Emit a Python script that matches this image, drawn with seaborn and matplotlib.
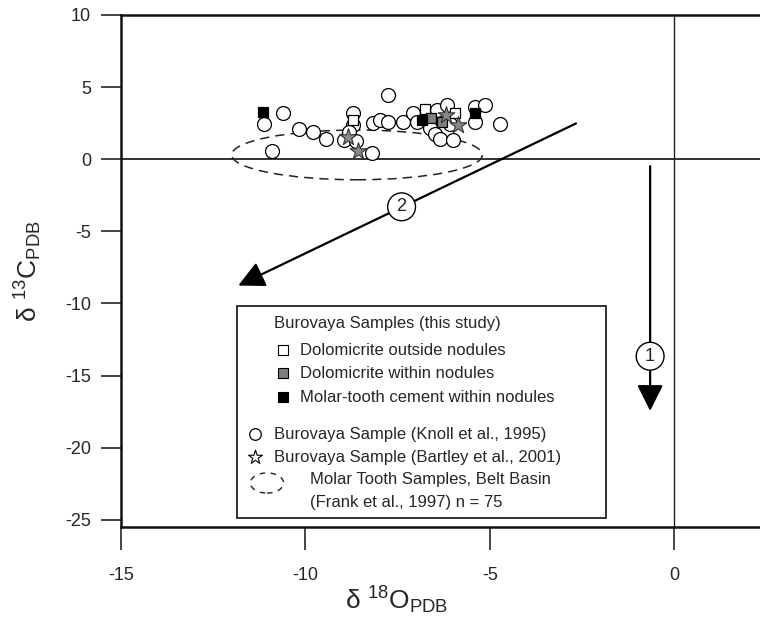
import matplotlib
matplotlib.use("Agg")
import pandas as pd
import matplotlib.pyplot as plt
import seaborn as sns
from matplotlib.patches import Ellipse, Rectangle, FancyArrowPatch

sns.set_theme(style="white")
plt.rcParams['font.family'] = ['Liberation Sans', 'DejaVu Sans']
plt.rcParams['mathtext.fontset'] = 'custom'
plt.rcParams['mathtext.rm'] = 'Liberation Sans'
plt.rcParams['mathtext.default'] = 'regular'
plt.rcParams['axes.unicode_minus'] = False

# Dados (d18O, d13C)
knoll_d18o = [-10.60, -11.11, -10.17, -9.78, -9.44, -10.91, -8.70, -8.70, -8.95, -8.81,
              -8.63, -8.20, -8.17, -7.75, -7.98, -7.75, -7.34, -7.07, -6.44, -6.17,
              -6.08, -6.62, -6.48, -6.35, -6.00, -6.98, -5.40, -5.13, -5.40, -4.72]
knoll_d13c = [3.17, 2.47, 2.08, 1.89, 1.37, 0.55, 3.17, 2.36, 1.32, 1.89,
              1.27, 0.44, 2.52, 4.44, 2.70, 2.58, 2.58, 3.17, 3.40, 3.74,
              2.47, 2.13, 1.78, 1.43, 1.32, 2.58, 3.62, 3.74, 2.58, 2.47]

fora_d18o = [-8.70, -6.75, -5.94]
fora_d13c = [2.75, 3.51, 3.17]
dentro_d18o = [-6.58, -6.30]
dentro_d13c = [2.89, 2.58]
cimento_d18o = [-11.14, -6.85, -5.40]
cimento_d13c = [3.24, 2.70, 3.17]
bartley_d18o = [-8.83, -8.56, -6.19, -5.85]
bartley_d13c = [1.55, 0.55, 3.10, 2.38]

# Campo Belt Basin (Frank et al., 1997): centro, largura, altura
elipse_centro = (-8.6, 0.3)
elipse_larg, elipse_alt = 6.8, 3.45

# Setas de tendência: (início, fim, posição do rótulo, rótulo)
setas = [((-0.65, -0.48), (-0.65, -17.45), (-0.65, -13.66), '1'),
         ((-2.66, 2.48), (-11.82, -8.76), (-7.39, -3.30), '2')]

df_knoll = pd.DataFrame({'d18O': knoll_d18o, 'd13C': knoll_d13c})
df_fora = pd.DataFrame({'d18O': fora_d18o, 'd13C': fora_d13c})
df_dentro = pd.DataFrame({'d18O': dentro_d18o, 'd13C': dentro_d13c})
df_cimento = pd.DataFrame({'d18O': cimento_d18o, 'd13C': cimento_d13c})
df_bartley = pd.DataFrame({'d18O': bartley_d18o, 'd13C': bartley_d13c})

fig = plt.figure(figsize=(7.6, 6.27), dpi=100)
ax = fig.add_axes([0.1592, 0.1595, 0.8408, 0.8166])

ax.axhline(0, color='#222222', lw=1.3, zorder=1)
ax.axvline(0, color='#222222', lw=1.0, zorder=1)

ax.add_patch(Ellipse(elipse_centro, elipse_larg, elipse_alt, fill=False,
                     ls=(0, (6, 4)), lw=1.1, edgecolor='#222222', zorder=2))

sns.scatterplot(data=df_knoll, x='d18O', y='d13C', ax=ax, marker='o', s=100,
                facecolor='white', edgecolor='black', linewidth=0.9, zorder=3)
sns.scatterplot(data=df_fora, x='d18O', y='d13C', ax=ax, marker='s', s=60,
                facecolor='white', edgecolor='black', linewidth=0.9, zorder=4)
sns.scatterplot(data=df_dentro, x='d18O', y='d13C', ax=ax, marker='s', s=60,
                facecolor='#808080', edgecolor='black', linewidth=0.9, zorder=4)
sns.scatterplot(data=df_cimento, x='d18O', y='d13C', ax=ax, marker='s', s=60,
                facecolor='black', edgecolor='black', linewidth=0.9, zorder=4)
sns.scatterplot(data=df_bartley, x='d18O', y='d13C', ax=ax, marker='*', s=160,
                facecolor='#8a8a8a', edgecolor='#333333', linewidth=0.8, zorder=5)

for inicio, fim, pos, rotulo in setas:
    ax.add_patch(FancyArrowPatch(inicio, fim, arrowstyle='-|>,head_length=0.8,head_width=0.4',
                                 mutation_scale=20, lw=1.6, color='black', zorder=6,
                                 shrinkA=0, shrinkB=0))
    ax.text(pos[0], pos[1], rotulo, fontsize=13, ha='center', va='center', zorder=7,
            bbox=dict(boxstyle='circle,pad=0.3', facecolor='white', edgecolor='black', lw=1.0))

# Caixa de legenda desenhada à mão, como no original
ax.add_patch(Rectangle((-11.85, -24.88), 10.0, 14.69, facecolor='white',
                       edgecolor='#222222', lw=1.3, zorder=8))
ax.text(-10.86, -11.37, 'Burovaya Samples (this study)', fontsize=12, va='center', zorder=9)
itens_quadrado = [('white', 'Dolomicrite outside nodules', -13.24),
                  ('#808080', 'Dolomicrite within nodules', -14.83),
                  ('black', 'Molar-tooth cement within nodules', -16.49)]
for cor, texto, y in itens_quadrado:
    ax.scatter([-10.61], [y], marker='s', s=45, facecolor=cor, edgecolor='black',
               linewidth=0.8, zorder=9)
    ax.text(-10.14, y, texto, fontsize=12, va='center', zorder=9)
ax.scatter([-11.37], [-19.06], marker='o', s=70, facecolor='white', edgecolor='black',
           linewidth=0.9, zorder=9)
ax.text(-10.86, -19.06, 'Burovaya Sample (Knoll et al., 1995)', fontsize=12, va='center', zorder=9)
ax.scatter([-11.37], [-20.65], marker='*', s=110, facecolor='white', edgecolor='black',
           linewidth=0.8, zorder=9)
ax.text(-10.86, -20.65, 'Burovaya Sample (Bartley et al., 2001)', fontsize=12, va='center', zorder=9)
ax.add_patch(Ellipse((-11.04, -22.45), 0.9, 1.4, fill=False, ls=(0, (4, 4)), lw=1.0,
                     edgecolor='#222222', zorder=9))
ax.text(-9.87, -22.18, 'Molar Tooth Samples, Belt Basin', fontsize=12, va='center', zorder=9)
ax.text(-9.87, -23.77, '(Frank et al., 1997) n = 75', fontsize=12, va='center', zorder=9)

ax.set_xlim(-15, 2.33)
ax.set_ylim(-25.5, 10)
ax.set_xticks([-15, -10, -5, 0])
ax.set_yticks([-25, -20, -15, -10, -5, 0, 5, 10])

for lado in ['left', 'top', 'bottom']:
    ax.spines[lado].set_linewidth(1.8)
    ax.spines[lado].set_color('#111111')
ax.spines['right'].set_visible(False)

ax.tick_params(axis='y', direction='out', length=14.5, width=1.2, labelsize=13, pad=7, left=True)
ax.tick_params(axis='x', direction='out', length=16.5, width=1.2, labelsize=13, pad=12, bottom=True)

ax.set_xlabel('δ $^{18}$O$_{PDB}$', fontsize=19, va='center')
ax.xaxis.set_label_coords(0.432, -0.143)
ax.set_ylabel('δ $^{13}$C$_{PDB}$', fontsize=19, va='center')
ax.yaxis.set_label_coords(-0.145, 0.50)

fig.savefig('out.png', dpi=100)
